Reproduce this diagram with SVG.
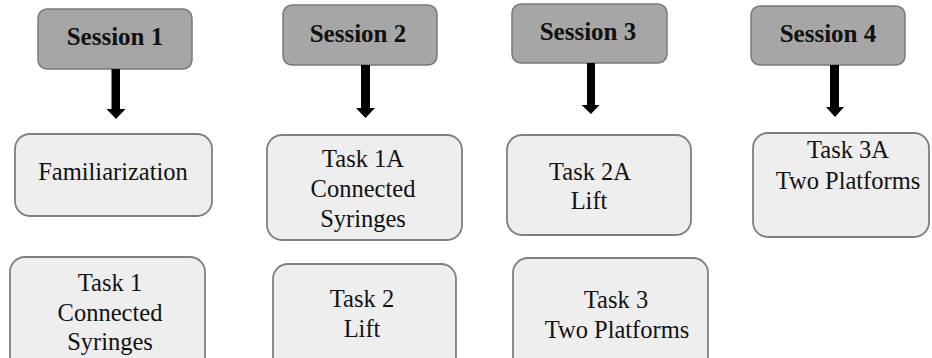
<svg xmlns="http://www.w3.org/2000/svg" width="932" height="358" viewBox="0 0 932 358">
  <style>
    .session rect { fill: #a6a6a6; stroke: #7a7a7a; stroke-width: 1.5; }
    .task rect { fill: #eeeeee; stroke: #7f7f7f; stroke-width: 1.8; }
    text { font-family: 'Liberation Serif', serif; fill: #111; text-anchor: middle; }
    .stitle { font-weight: bold; font-size: 25px; }
    .ttext { font-size: 24.5px; }
    .arrow { fill: #000; }
  </style>
  <rect width="932" height="358" fill="#ffffff"/>

  <!-- Session headers -->
  <g id="session1" class="session">
    <rect x="38" y="9" width="154" height="60" rx="9"/>
    <text class="stitle" x="115" y="45">Session 1</text>
  </g>
  <g id="session2" class="session">
    <rect x="283" y="5" width="154" height="60" rx="9"/>
    <text class="stitle" x="358" y="42">Session 2</text>
  </g>
  <g id="session3" class="session">
    <rect x="512" y="4" width="155" height="59" rx="9"/>
    <text class="stitle" x="588" y="40">Session 3</text>
  </g>
  <g id="session4" class="session">
    <rect x="751" y="6" width="154" height="59" rx="9"/>
    <text class="stitle" x="828" y="42">Session 4</text>
  </g>

  <!-- Arrows from each session header -->
  <g id="connectors" class="arrow">
    <path d="M111.5,69 H120 V109 H125.5 L116,119 L106.5,109 H111.5 Z"/>
    <path d="M361,65 H370 V108 H375 L365.5,118 L356,108 H361 Z"/>
    <path d="M587,63 H595 V105 H599.5 L591,114 L581.5,105 H587 Z"/>
    <path d="M830,65 H839 V107 H844 L835,117 L826,107 H830 Z"/>
  </g>

  <!-- Session 1 tasks -->
  <g id="familiarization" class="task">
    <rect x="15" y="134" width="197" height="82" rx="15"/>
    <text class="ttext" x="113" y="180">Familiarization</text>
  </g>
  <g id="task1" class="task">
    <rect x="10" y="257" width="195" height="120" rx="15"/>
    <text class="ttext" x="110" y="291">Task 1</text>
    <text class="ttext" x="110" y="321">Connected</text>
    <text class="ttext" x="110" y="350">Syringes</text>
  </g>

  <!-- Session 2 tasks -->
  <g id="task1a" class="task">
    <rect x="267" y="135" width="195" height="105" rx="15"/>
    <text class="ttext" x="363" y="167">Task 1A</text>
    <text class="ttext" x="363" y="197">Connected</text>
    <text class="ttext" x="363" y="227">Syringes</text>
  </g>
  <g id="task2" class="task">
    <rect x="273" y="264" width="183" height="120" rx="15"/>
    <text class="ttext" x="362" y="307">Task 2</text>
    <text class="ttext" x="362" y="337">Lift</text>
  </g>

  <!-- Session 3 tasks -->
  <g id="task2a" class="task">
    <rect x="507" y="135" width="184" height="100" rx="15"/>
    <text class="ttext" x="590" y="180">Task 2A</text>
    <text class="ttext" x="589" y="209">Lift</text>
  </g>
  <g id="task3" class="task">
    <rect x="513" y="258" width="195" height="120" rx="15"/>
    <text class="ttext" x="616" y="308">Task 3</text>
    <text class="ttext" x="617" y="338">Two Platforms</text>
  </g>

  <!-- Session 4 task -->
  <g id="task3a" class="task">
    <rect x="753" y="133" width="176" height="104" rx="15"/>
    <text class="ttext" x="848" y="158">Task 3A</text>
    <text class="ttext" x="848" y="189">Two Platforms</text>
  </g>
</svg>
